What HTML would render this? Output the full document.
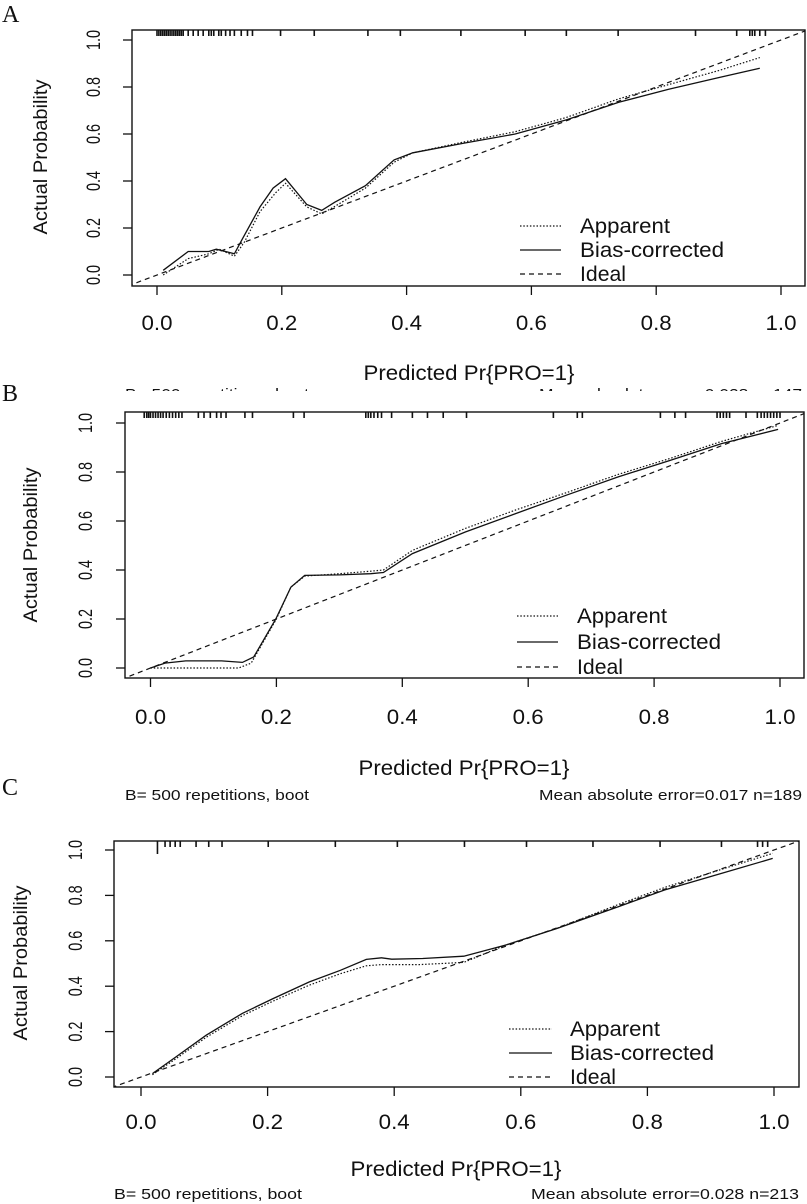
<!DOCTYPE html>
<html><head><meta charset="utf-8"><style>
html,body{margin:0;padding:0;background:#fff;}
svg{display:block;font-family:"Liberation Sans",sans-serif;}
</style></head><body>
<svg id="fig" width="807" height="1204" viewBox="0 0 807 1204" xmlns="http://www.w3.org/2000/svg"></svg>
<script>
// Panel A data
const aBiasX = [0.01,0.05,0.083,0.095,0.124,0.136,0.165,0.186,0.206,0.24,0.264,0.285,0.334,0.38,0.41,0.49,0.574,0.656,0.74,0.82,0.90,0.966];
const aBiasY = [0.02,0.10,0.10,0.11,0.09,0.15,0.29,0.37,0.41,0.30,0.275,0.31,0.38,0.49,0.52,0.56,0.60,0.66,0.735,0.79,0.84,0.88];
const aAppX = [0.01,0.05,0.083,0.10,0.124,0.14,0.165,0.19,0.206,0.24,0.264,0.29,0.334,0.38,0.41,0.49,0.574,0.656,0.74,0.82,0.90,0.966];
const aAppY = [0.0,0.07,0.09,0.11,0.08,0.14,0.27,0.35,0.39,0.29,0.26,0.30,0.37,0.48,0.52,0.565,0.61,0.67,0.75,0.81,0.87,0.925];
const aRug = [0.0,0.003,0.006,0.009,0.012,0.015,0.018,0.021,0.024,0.027,0.03,0.033,0.036,0.039,0.042,0.05,0.058,0.066,0.074,0.083,0.087,0.091,0.099,0.103,0.11,0.117,0.124,0.135,0.145,0.153,0.198,0.252,0.338,0.39,0.487,0.59,0.656,0.739,0.863,0.929,0.95,0.954,0.958,0.966,0.975];
// Panel B data
const bBiasX = [0,0.023,0.056,0.113,0.146,0.164,0.199,0.223,0.245,0.30,0.35,0.37,0.416,0.5,0.58,0.66,0.743,0.825,0.907,0.997];
const bBiasY = [0,0.02,0.029,0.029,0.023,0.045,0.20,0.33,0.378,0.38,0.385,0.39,0.467,0.555,0.63,0.705,0.78,0.847,0.916,0.974];
const bAppX = [0,0.05,0.14,0.16,0.20,0.223,0.245,0.30,0.35,0.37,0.416,0.5,0.58,0.66,0.743,0.825,0.907,0.997];
const bAppY = [0,0,0,0.02,0.20,0.33,0.375,0.385,0.395,0.40,0.48,0.57,0.645,0.715,0.79,0.855,0.925,0.99];
const bRug = [-0.01,-0.006,-0.003,0.0,0.004,0.008,0.012,0.016,0.02,0.025,0.03,0.035,0.04,0.045,0.05,0.076,0.085,0.095,0.105,0.112,0.12,0.15,0.162,0.227,0.244,0.342,0.346,0.35,0.355,0.361,0.367,0.383,0.416,0.44,0.465,0.502,0.64,0.678,0.686,0.81,0.833,0.85,0.90,0.905,0.91,0.915,0.92,0.946,0.964,0.97,0.975,0.98,0.985,0.99,0.995,1.0];
// Panel C data
const cBiasX = [0.018,0.055,0.103,0.16,0.209,0.266,0.315,0.356,0.38,0.396,0.445,0.51,0.575,0.657,0.754,0.827,0.917,0.998];
const cBiasY = [0.015,0.088,0.184,0.28,0.346,0.419,0.47,0.518,0.525,0.519,0.522,0.532,0.58,0.654,0.75,0.824,0.897,0.963];
const cAppX = [0.018,0.055,0.103,0.16,0.209,0.266,0.315,0.356,0.38,0.44,0.51,0.575,0.657,0.754,0.827,0.917,0.998];
const cAppY = [0.01,0.08,0.175,0.27,0.335,0.405,0.455,0.49,0.495,0.495,0.505,0.58,0.655,0.76,0.835,0.915,0.985];
const cRug = [0.026,0.038,0.046,0.054,0.062,0.087,0.107,0.128,0.201,0.307,0.405,0.511,0.609,0.714,0.82,0.917,0.974,0.982,0.99];
const ticks = [0,0.2,0.4,0.6,0.8,1.0];
const tickLabels = ["0.0","0.2","0.4","0.6","0.8","1.0"];

const svg = document.getElementById('fig');
const NS = 'http://www.w3.org/2000/svg';
function mk(tag, attrs, parent){
  const e = document.createElementNS(NS, tag);
  for (const k in attrs) e.setAttribute(k, attrs[k]);
  (parent||svg).appendChild(e);
  return e;
}
function txt(parent, x, y, s, size, len, anchor, rot, fam){
  const t = mk('text', {x:x, y:y, 'font-size':size, 'text-anchor':anchor||'middle', fill:'#111'}, parent);
  if (len) { t.setAttribute('textLength', len); t.setAttribute('lengthAdjust','spacingAndGlyphs'); }
  if (rot) t.setAttribute('transform', 'rotate(-90 '+x+' '+y+')');
  if (fam) t.setAttribute('font-family', fam);
  t.textContent = s;
  return t;
}

function panel(cfg){
  const g = mk('g', {});
  
  
  const L=cfg.left,R=cfg.right,T=cfg.top,B=cfg.bottom;
  const sx = v => cfg.x0 + v*(cfg.x1-cfg.x0);
  const sy = v => cfg.y0 + v*(cfg.y1-cfg.y0);
  const lt = txt(g, cfg.letterX, cfg.letterY, cfg.id.toUpperCase(), 24, 0, 'start', false, '"Liberation Serif",serif');
  
  
  const cp = mk('clipPath', {id:'clip'+cfg.id}, g);
  mk('rect', {x:L, y:T, width:R-L, height:B-T}, cp);
  const box = mk('rect', {x:L, y:T, width:R-L, height:B-T, fill:'none', stroke:'#111', 'stroke-width':1.4}, g);
  
  
  const xa = mk('g', {}, g);
  
  
  ticks.forEach((v,i)=>{
    mk('line', {x1:sx(v), x2:sx(v), y1:B, y2:B+9, stroke:'#111', 'stroke-width':1.3}, xa);
    txt(xa, sx(v), cfg.xLabY, tickLabels[i], 21, 31);
  });
  const ya = mk('g', {}, g);
  
  
  ticks.forEach((v,i)=>{
    mk('line', {x1:L, x2:L-9, y1:sy(v), y2:sy(v), stroke:'#111', 'stroke-width':1.3}, ya);
    txt(ya, cfg.yLabX, sy(v), tickLabels[i], 19, 20, 'middle', true);
  });
  const xt = txt(g, cfg.xTitleX, cfg.xTitleY, 'Predicted Pr{PRO=1}', 21, 211);
  
  
  const yt = txt(g, cfg.yTitleX, cfg.yTitleY, 'Actual Probability', 19, 155, 'middle', true);
  
  
  const pg = mk('g', {'clip-path':'url(#clip'+cfg.id+')'}, g);
  const ideal = mk('line', {x1:sx(-0.06), y1:sy(-0.06), x2:sx(1.06), y2:sy(1.06), stroke:'#111', 'stroke-width':1.2, 'stroke-dasharray':'5,4'}, pg);
  
  
  const pts = (xs,ys)=>xs.map((x,i)=>sx(x).toFixed(1)+','+sy(ys[i]).toFixed(1)).join(' ');
  const app = mk('polyline', {points:pts(cfg.appX,cfg.appY), fill:'none', stroke:'#111', 'stroke-width':1.2, 'stroke-dasharray':'1.5,1.8'}, pg);
  
  
  const bias = mk('polyline', {points:pts(cfg.biasX,cfg.biasY), fill:'none', stroke:'#111', 'stroke-width':1.3}, pg);
  
  
  const rg = mk('g', {}, pg);
  
  
  cfg.rug.forEach((v,i)=>{
    const len = (cfg.longRug && i===0) ? 13 : 6;
    mk('line', {x1:sx(v), x2:sx(v), y1:T, y2:T+len, stroke:'#111', 'stroke-width':1.6}, rg);
  });
  const lg = mk('g', {}, g);
  
  
  const items = [['Apparent','1.5,1.8',90],['Bias-corrected','',144],['Ideal','5,4',46]];
  items.forEach((it,i)=>{
    const yy = cfg.legY[i];
    const e = mk('g', {}, lg);
    
    
    const ln = mk('line', {x1:cfg.legX1, x2:cfg.legX2, y1:yy, y2:yy, stroke:'#111', 'stroke-width':1.3}, e);
    if (it[1]) ln.setAttribute('stroke-dasharray', it[1]);
    txt(e, cfg.legTX, yy+7, it[0], 21, it[2], 'start');
  });
  return g;
}

panel({id:'a', letterX:2, letterY:22, left:132,right:805,top:30,bottom:286,
  x0:157,x1:781,y0:275,y1:40, xLabY:330, yLabX:100, xTitleX:469, xTitleY:380, yTitleX:47, yTitleY:157,
  biasX:aBiasX,biasY:aBiasY,appX:aAppX,appY:aAppY,rug:aRug,
  legX1:520,legX2:561,legTX:580,legY:[226,250,274]});

const sub = mk('g', {});


txt(sub, 125, 399, 'B= 500 repetitions, boot', 15, 184, 'start');
txt(sub, 802, 399, 'Mean absolute error=0.028 n=147', 15, 263, 'end');
mk('rect', {x:40, y:391, width:767, height:14, fill:'#fff'});

panel({id:'b', letterX:2, letterY:401, left:125,right:804,top:412,bottom:678,
  x0:150.5,x1:780,y0:668,y1:423, xLabY:724, yLabX:92, xTitleX:464, xTitleY:775, yTitleX:37, yTitleY:545,
  biasX:bBiasX,biasY:bBiasY,appX:bAppX,appY:bAppY,rug:bRug,
  legX1:517,legX2:558,legTX:577,legY:[616,642,667]});

const subB = mk('g', {});


txt(subB, 125, 800, 'B= 500 repetitions, boot', 15, 184, 'start');
txt(subB, 802, 800, 'Mean absolute error=0.017 n=189', 15, 263, 'end');

panel({id:'c', letterX:2, letterY:795, left:114,right:799,top:841,bottom:1087,
  x0:141,x1:774,y0:1077,y1:850, xLabY:1129, yLabX:82, xTitleX:456, xTitleY:1176, yTitleX:27, yTitleY:963,
  biasX:cBiasX,biasY:cBiasY,appX:cAppX,appY:cAppY,rug:cRug,longRug:true,
  legX1:509,legX2:552,legTX:570,legY:[1029,1053,1077]});

const subC = mk('g', {});


txt(subC, 114, 1199, 'B= 500 repetitions, boot', 15, 188, 'start');
txt(subC, 799, 1199, 'Mean absolute error=0.028 n=213', 15, 268, 'end');
</script>
</body></html>
